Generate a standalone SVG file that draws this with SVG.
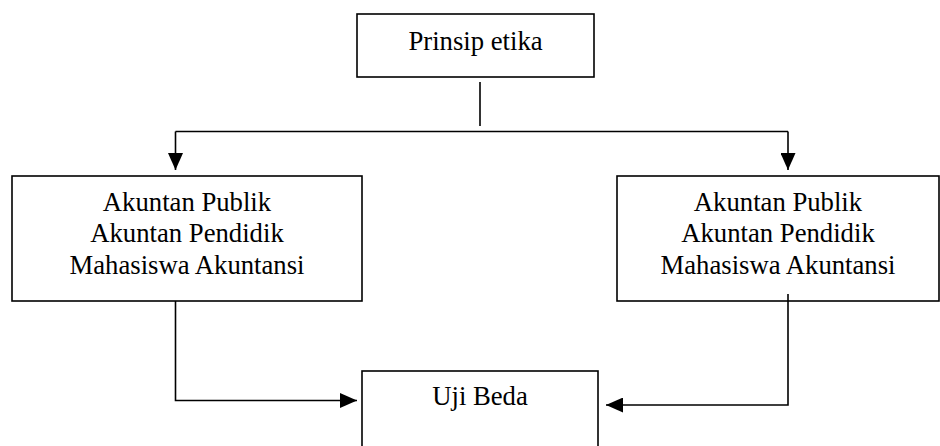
<svg xmlns="http://www.w3.org/2000/svg" width="940" height="446" viewBox="0 0 940 446">
<style>
.box{fill:#fff;stroke:#000;stroke-width:1.6}
.t{font-family:"Liberation Serif","Times New Roman",serif;font-size:26.7px;fill:#000;text-anchor:middle}
.ln{fill:none;stroke:#000;stroke-width:1.6}
</style>
<defs>
<marker id="ah" viewBox="0 0 17 15" refX="17" refY="7.5" markerWidth="17" markerHeight="15" markerUnits="userSpaceOnUse" orient="auto">
<path d="M0,0 L17,7.5 L0,15 Z" fill="#000"/>
</marker>
</defs>
<g id="connectors">
<line class="ln" x1="480" y1="82" x2="480" y2="126"/>
<line class="ln" x1="175.5" y1="131.5" x2="788" y2="131.5"/>
<line class="ln" x1="175.5" y1="131.5" x2="175.5" y2="170" marker-end="url(#ah)"/>
<line class="ln" x1="788" y1="131.5" x2="788" y2="170" marker-end="url(#ah)"/>
<path class="ln" d="M175.5,301 V400.5 H357" marker-end="url(#ah)"/>
<path class="ln" d="M788,294 V405 H606" marker-end="url(#ah)"/>
</g>
<g id="prinsip">
<rect class="box" x="357" y="14" width="237" height="63"/>
<text class="t" x="475.5" y="50">Prinsip etika</text>
</g>
<g id="left">
<rect class="box" x="12" y="176" width="350" height="125"/>
<text class="t" x="187" y="211">Akuntan Publik</text>
<text class="t" x="187" y="242">Akuntan Pendidik</text>
<text class="t" x="187" y="274">Mahasiswa Akuntansi</text>
</g>
<g id="right">
<rect class="box" x="617" y="176" width="322" height="125" style="fill:none"/>
<text class="t" x="778" y="211">Akuntan Publik</text>
<text class="t" x="778" y="242">Akuntan Pendidik</text>
<text class="t" x="778" y="274">Mahasiswa Akuntansi</text>
</g>
<g id="ujibeda">
<rect class="box" x="362" y="371" width="236" height="90"/>
<text class="t" x="480" y="405">Uji Beda</text>
</g>
</svg>
